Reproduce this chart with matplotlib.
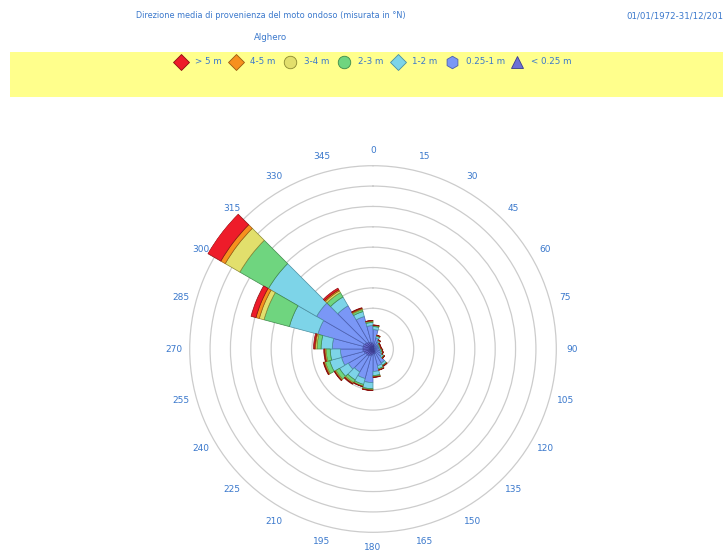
import numpy as np
import matplotlib
matplotlib.use("Agg")
import matplotlib.pyplot as plt
from matplotlib.lines import Line2D
from matplotlib.patches import Rectangle

# Mean wave direction (°N), 15° sectors, frequency in % per wave-height class
directions = list(range(0, 360, 15))
angle_labels = [str(d) for d in directions]

h_lt025 = [0.5, 0.4, 0.3, 0.2, 0.2, 0.2, 0.2, 0.2, 0.3, 0.4, 0.5, 0.5,
           0.6, 0.7, 0.8, 0.8, 0.9, 1.0, 1.0, 1.0, 0.9, 0.8, 0.7, 0.6]
h_025_1 = [1.4, 0.7, 0.5, 0.4, 0.4, 0.4, 0.5, 0.6, 0.7, 1.2, 1.2, 1.7,
           2.7, 2.3, 1.8, 2.0, 2.3, 2.2, 3.0, 4.6, 5.5, 4.1, 2.6, 1.7]
h_1_2 = [0.3, 0.2, 0.16, 0.12, 0.1, 0.12, 0.14, 0.16, 0.2, 0.24, 0.3, 0.4,
         0.6, 0.6, 0.9, 1.0, 1.2, 1.0, 1.1, 2.9, 5.46, 1.0, 0.5, 0.3]
h_2_3 = [0.1, 0.06, 0.04, 0.04, 0.04, 0.04, 0.06, 0.04, 0.06, 0.06, 0.1, 0.1,
         0.1, 0.16, 0.3, 0.4, 0.44, 0.4, 0.4, 2.58, 3.24, 0.5, 0.2, 0.12]
h_3_4 = [0.02, 0.02, 0.02, 0.02, 0.02, 0.02, 0.02, 0.02, 0.02, 0.02, 0.02, 0.04,
         0.04, 0.04, 0.1, 0.1, 0.1, 0.1, 0.14, 0.48, 1.66, 0.2, 0.08, 0.04]
h_4_5 = [0.02, 0.02, 0.02, 0.02, 0.02, 0.02, 0.02, 0.02, 0.02, 0.02, 0.02, 0.02,
         0.02, 0.02, 0.04, 0.06, 0.06, 0.06, 0.08, 0.34, 0.5, 0.12, 0.06, 0.02]
h_gt5 = [0.02, 0.02, 0.02, 0.02, 0.02, 0.02, 0.02, 0.02, 0.02, 0.02, 0.02, 0.02,
         0.02, 0.02, 0.06, 0.04, 0.06, 0.08, 0.12, 0.5, 1.48, 0.18, 0.06, 0.02]

classes = ["> 5 m", "4-5 m", "3-4 m", "2-3 m", "1-2 m", "0.25-1 m", "< 0.25 m"]
fills = ["#ee1c2a", "#f7901e", "#e2df6c", "#6fd57f", "#7dd4e8", "#7a97f6", "#6b6fd6"]
edges = ["#8a1010", "#9a5a10", "#8a8830", "#3f8a4a", "#4a8fa0", "#4a5fb0", "#3a3c90"]
markers = ["D", "D", "o", "o", "D", "h", "^"]

title_blue = "#3a78cc"
ring_step = 2.0
n_rings = 9

fig = plt.figure(figsize=(7.23, 5.51), dpi=100)
fig.patch.set_facecolor("white")

# header texts
fig.text(271 / 723, 1 - 16 / 551, "Direzione media di provenienza del moto ondoso (misurata in °N)",
         ha="center", va="center", fontsize=5.9, color=title_blue)
fig.text(626 / 723, 1 - 16 / 551, "01/01/1972-31/12/2012", ha="left", va="center",
         fontsize=6.2, color=title_blue)
fig.text(271 / 723, 1 - 38 / 551, "Alghero", ha="center", va="center",
         fontsize=6.2, color=title_blue)

# legend band
fig.add_artist(Rectangle((10 / 723, 1 - 97 / 551), 1, 45 / 551, transform=fig.transFigure,
                         facecolor="#ffff8c", edgecolor="none", zorder=0))
icon_x = [181, 236, 290, 344, 398, 452, 517]
for k, x in enumerate(icon_x):
    y = 1 - 62 / 551
    fig.add_artist(Line2D([x / 723], [y], marker=markers[k],
                          markersize=9 if markers[k] != "D" else 8,
                          markerfacecolor=fills[k], markeredgecolor=edges[k], markeredgewidth=0.6,
                          linestyle="none", transform=fig.transFigure))
    fig.text((x + 14) / 723, y, classes[k], ha="left", va="center", fontsize=6.3, color=title_blue)

# polar rose
R_px = 191.0
cx, cy = 373.0, 551 - 349.0
ax = fig.add_axes([(cx - R_px) / 723, (cy - R_px) / 551, 2 * R_px / 723, 2 * R_px / 551],
                  projection="polar")
ax.set_theta_zero_location("N")
ax.set_theta_direction(-1)
r_max = n_rings * ring_step * 191.0 / 183.3
ax.set_ylim(0, r_max)

theta = np.deg2rad(directions)
width = np.deg2rad(15)
stack = [h_lt025, h_025_1, h_1_2, h_2_3, h_3_4, h_4_5, h_gt5]
bottom = np.zeros(len(directions))
for i, vals in enumerate(stack):
    k = 6 - i
    ax.bar(theta, vals, width=width, bottom=bottom, align="edge",
           color=fills[k], edgecolor=edges[k], linewidth=0.5, zorder=3)
    bottom = bottom + np.array(vals)

# rings
ax.set_yticks([ring_step * (i + 1) for i in range(n_rings)])
ax.set_yticklabels([])
ax.yaxis.grid(True, color="#cccccc", linewidth=0.9)
ax.xaxis.grid(False)
ax.set_xticks([])
ax.spines["polar"].set_visible(False)
ax.set_axisbelow(True)
ax.patch.set_alpha(0)

label_r = r_max * 199.0 / R_px
for d, lab in zip(directions, angle_labels):
    ax.text(np.deg2rad(d), label_r, lab, ha="center", va="center", fontsize=6.5,
            color=title_blue, clip_on=False)

fig.savefig("out.png", dpi=100)
